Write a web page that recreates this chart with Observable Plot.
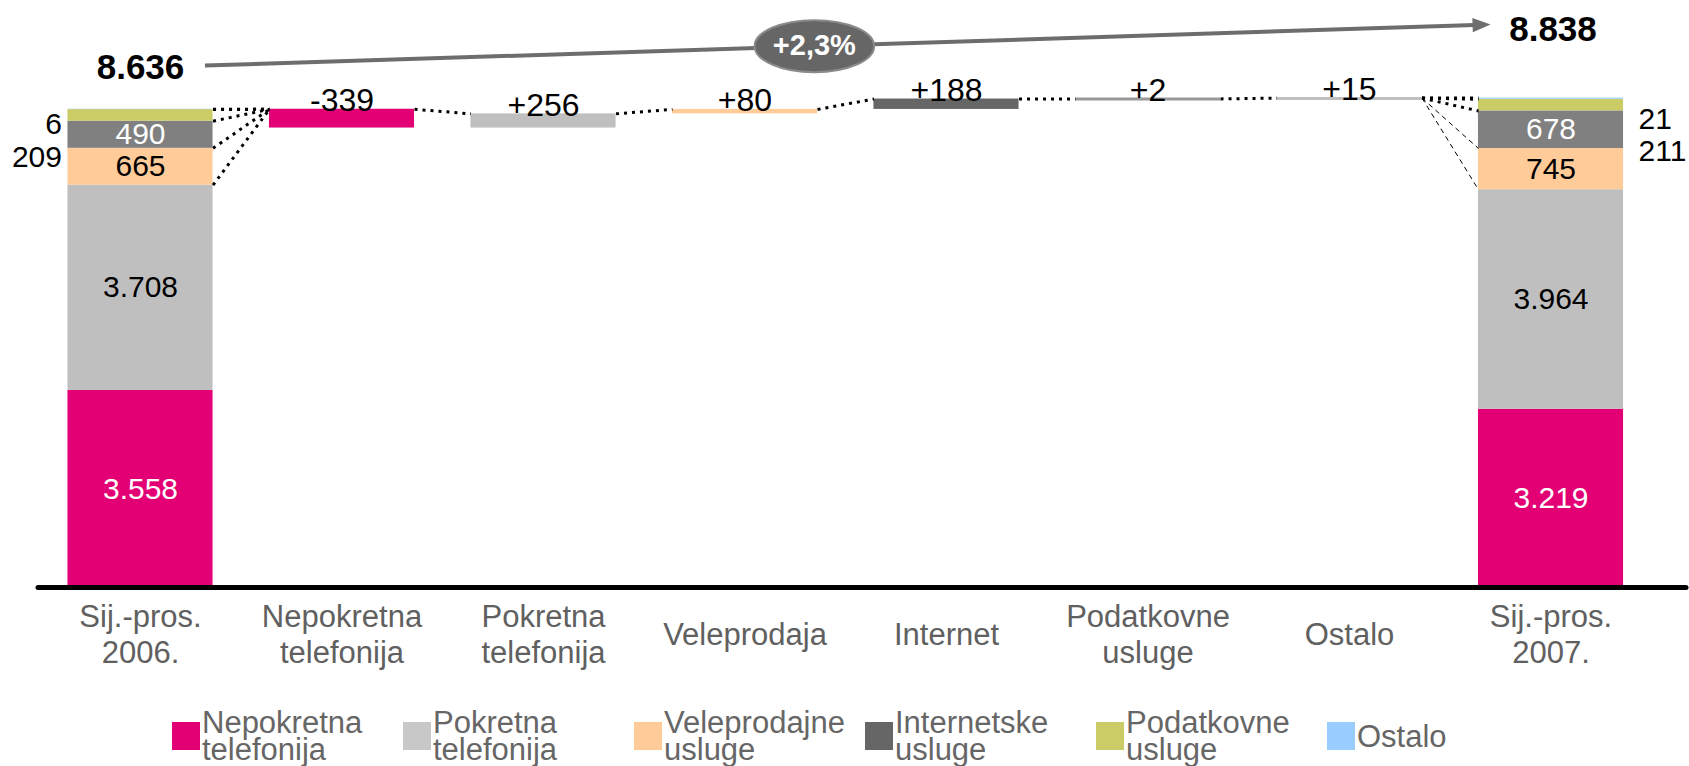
<!DOCTYPE html>
<html><head><meta charset="utf-8">
<script src="https://cdn.jsdelivr.net/npm/d3@7"></script>
<script src="https://cdn.jsdelivr.net/npm/@observablehq/plot@0.6"></script>
<style>
html,body{margin:0;padding:0;background:#fff;}
#chart{width:1689px;height:766px;overflow:hidden;}
.legend{display:flex;height:60px;padding-left:172px;font-family:"Liberation Sans",Arial,sans-serif;font-size:31px;color:#666;}
.item{width:231px;height:60px;display:flex;align-items:center;flex:none;}
.sw{width:28px;height:28px;margin-right:2px;flex:none;}
.lab{line-height:27px;white-space:pre;}
</style></head><body><div id="chart"></div>
<script>
const categories = ["Sij.-pros.\n2006.", "Nepokretna\ntelefonija", "Pokretna\ntelefonija", "Veleprodaja", "Internet", "Podatkovne\nusluge", "Ostalo", "Sij.-pros.\n2007."];
const series = ["Nepokretna\ntelefonija", "Pokretna\ntelefonija", "Veleprodajne\nusluge", "Internetske\nusluge", "Podatkovne\nusluge", "Ostalo"];
const values2006 = [3558, 3708, 665, 490, 209, 6];
const values2007 = [3219, 3964, 745, 678, 211, 21];
const changes = [-339, 256, 80, 188, 2, 15];
const total2006 = 8636;
const total2007 = 8838;
const growthLabel = "+2,3%";

const segColors = ["#E20074", "#BFBFBF", "#FFCC99", "#808080", "#CCCC66", "#99CCFF"];
const stepColors = ["#E20074", "#BFBFBF", "#FFCC99", "#666666", "#999999", "#BFBFBF"];
const legendColors = ["#E20074", "#C8C8C8", "#FFCC99", "#666666", "#CCCC66", "#99CCFF"];

const fmt = d3.formatLocale({decimal: ",", thousands: ".", grouping: [3], currency: ["", ""]}).format(",d");
const signed = v => (v > 0 ? "+" : "-") + Math.abs(v);
const FONT = "Liberation Sans, Arial, sans-serif";
const hw = 0.36; // half bar width in band units

function stack(vals, xi) {
  let c = 0;
  return vals.map((v, k) => ({x: xi, y1: c, y2: (c += v), v, k}));
}
const seg06 = stack(values2006, 0);
const seg07 = stack(values2007, categories.length - 1);
const segs = [...seg06, ...seg07];

let cum = total2006;
const steps = changes.map((d, i) => {
  const a = cum; cum += d;
  return {x: i + 1, a, b: cum, d, top: Math.max(a, cum), lo: Math.min(a, cum), k: i};
});

const links = [];
seg06.slice(1).forEach(s => links.push({x1: hw, y1: s.y2, x2: 1 - hw, y2: steps[0].top, thin: false}));
for (let i = 0; i < steps.length - 1; i++) {
  links.push({x1: steps[i].x + hw, y1: steps[i].top, x2: steps[i + 1].x - hw, y2: steps[i + 1].top, thin: false});
}
const last = steps[steps.length - 1];
seg07.slice(1).forEach(s => links.push({x1: last.x + hw, y1: last.top, x2: 7 - hw, y2: s.y2, thin: s.y2 < 8000}));

const inside = segs.filter(s => s.k < 4);
const small06 = seg06.filter(s => s.k >= 4).reverse(); // [Ostalo, Podatkovne]
const small07 = seg07.filter(s => s.k >= 4).reverse();

const ellipse = {draw(ctx, size) {
  const r = Math.sqrt(size / Math.PI), rx = r * 2.3, ry = r, k = 0.5523;
  ctx.moveTo(rx, 0);
  ctx.bezierCurveTo(rx, ry * k, rx * k, ry, 0, ry);
  ctx.bezierCurveTo(-rx * k, ry, -rx, ry * k, -rx, 0);
  ctx.bezierCurveTo(-rx, -ry * k, -rx * k, -ry, 0, -ry);
  ctx.bezierCurveTo(rx * k, -ry, rx, -ry * k, rx, 0);
  ctx.closePath();
}};
const head = {draw(ctx, size) {
  const r = Math.sqrt(size / Math.PI);
  ctx.moveTo(0, 0); ctx.lineTo(-2 * r, -0.8 * r); ctx.lineTo(-2 * r, 0.8 * r); ctx.closePath();
}};

const arrow = {x1: 0.32, y1: 9425, x2: 6.70, y2: 10165};
const t = 0.474;
const badge = {x: arrow.x1 + t * (arrow.x2 - arrow.x1), y: arrow.y1 + t * (arrow.y2 - arrow.y1)};
const ang = Math.atan2(-(arrow.y2 - arrow.y1) * 0.05538, (arrow.x2 - arrow.x1) * 201.5) * 180 / Math.PI;

function sideLabel(d, total, anchor, dx, dy) {
  return Plot.text([d], {x: d.x + (anchor === "end" ? -hw : hw), y: total, text: [fmt(d.v)], textAnchor: anchor, dx, dy, fontSize: 30, fill: "#000"});
}

const plot = Plot.plot({
  width: 1689, height: 706,
  marginLeft: 38, marginRight: 3, marginTop: 0, marginBottom: 119,
  style: {fontFamily: FONT, background: "#fff", overflow: "visible"},
  x: {type: "linear", domain: [-0.5, 7.5], range: [39.25, 1651.25], axis: null},
  y: {domain: [0, 10600], axis: null},
  marks: [
    Plot.rect(segs, {x1: d => d.x - hw, x2: d => d.x + hw, y1: "y1", y2: "y2", fill: d => segColors[d.k]}),
    Plot.rect(steps, {x1: d => d.x - hw, x2: d => d.x + hw, y1: "lo", y2: "top", fill: d => stepColors[d.k]}),
    Plot.ruleY(steps.filter(d => Math.abs(d.d) < 50), {x1: d => d.x - hw, x2: d => d.x + hw, y: d => (d.a + d.b) / 2, stroke: d => stepColors[d.k], strokeWidth: 3}),
    Plot.link(links.filter(d => !d.thin), {x1: "x1", y1: "y1", x2: "x2", y2: "y2", stroke: "#000", strokeWidth: 3, strokeDasharray: "3,5"}),
    Plot.link(links.filter(d => d.thin), {x1: "x1", y1: "y1", x2: "x2", y2: "y2", stroke: "#000", strokeWidth: 1, strokeDasharray: "5,4"}),
    Plot.ruleY([0], {stroke: "#000", strokeWidth: 5, strokeLinecap: "round"}),
    Plot.text(inside, {x: "x", y: d => (d.y1 + d.y2) / 2, text: d => fmt(d.v), fill: d => (d.k === 0 || d.k === 3) ? "#fff" : "#000", fontSize: 30}),
    sideLabel(small06[0], total2006, "end", -6, 15),
    sideLabel(small06[1], total2006, "end", -6, 48),
    sideLabel(small07[0], total2007, "start", 15, 21),
    sideLabel(small07[1], total2007, "start", 15, 53),
    Plot.text(steps, {x: "x", y: "top", text: d => signed(d.d), lineAnchor: "bottom", dy: 2, fontSize: 32, fill: "#000"}),
    Plot.text(categories, {x: (d, i) => i, frameAnchor: "bottom", dy: 46, lineAnchor: "middle", lineHeight: 1.18, fontSize: 31, fill: "#606060"}),
    Plot.link([arrow], {x1: "x1", y1: "y1", x2: d => d.x2 - 0.04, y2: d => d.y2 - 0.04 * (d.y2 - d.y1) / (d.x2 - d.x1), stroke: "#6d6d6d", strokeWidth: 4}),
    Plot.dot([arrow], {x: "x2", y: "y2", symbol: head, r: 9, fill: "#6d6d6d", stroke: "none", rotate: ang}),
    Plot.dot([badge], {x: "x", y: "y", symbol: ellipse, r: 26, fill: "#666666", stroke: "#8a8a8a", strokeWidth: 2}),
    Plot.text([badge], {x: "x", y: "y", text: [growthLabel], fill: "#fff", fontSize: 29, fontWeight: "bold"}),
    Plot.text([total2006], {x: 0, y: 9390, text: d => fmt(d), fontWeight: "bold", fontSize: 35, fill: "#000"}),
    Plot.text([total2007], {x: 7.01, y: 10076, text: d => fmt(d), fontWeight: "bold", fontSize: 35, fill: "#000"})
  ]
});
const root = document.getElementById("chart");
root.appendChild(plot);
const legend = document.createElement("div");
legend.className = "legend";
series.forEach((s, i) => {
  const it = document.createElement("div"); it.className = "item";
  const sw = document.createElement("div"); sw.className = "sw"; sw.style.background = legendColors[i];
  const lab = document.createElement("div"); lab.className = "lab"; lab.textContent = s;
  it.appendChild(sw); it.appendChild(lab); legend.appendChild(it);
});
root.appendChild(legend);
</script></body></html>
